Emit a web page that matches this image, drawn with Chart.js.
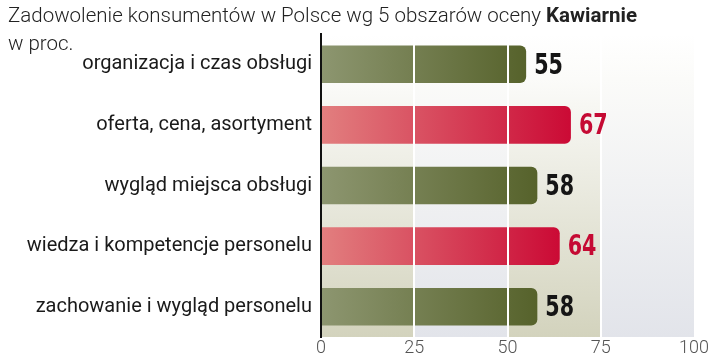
<!DOCTYPE html>
<html>
<head>
<meta charset="utf-8">
<script src="https://cdn.jsdelivr.net/npm/chart.js@4"></script>
<style>
  html, body { margin: 0; padding: 0; background: #fff; }
  #wrap { position: relative; width: 720px; height: 360px; }
  #title { position: absolute; left: 8px; top: 1px; font-family: Roboto, sans-serif; font-weight: 300; font-size: 20.5px; color: #222; white-space: nowrap; line-height: 28px; }
  #title b { font-weight: 700; }
  canvas { position: absolute; left: 0; top: 0; }
</style>
</head>
<body>
<div id="wrap">
  <canvas id="chart" width="720" height="360"></canvas>
  <div id="title">Zadowolenie konsumentów w Polsce wg 5 obszarów oceny <b>Kawiarnie</b><br>w proc.</div>
</div>
<script>
// Data
const categories = [
  "organizacja i czas obsługi",
  "oferta, cena, asortyment",
  "wygląd miejsca obsługi",
  "wiedza i kompetencje personelu",
  "zachowanie i wygląd personelu",
];
const values = [55, 67, 58, 64, 58];
const xTicks = [0, 25, 50, 75, 100];

// red bars on every second row
const isRed = (i) => i % 2 === 1;

function barFill(ctx) {
  const chart = ctx.chart;
  const area = chart.chartArea;
  const red = isRed(ctx.dataIndex);
  if (!area) return red ? "#d6394f" : "#6f7a45";
  const x0 = chart.scales.x.getPixelForValue(0);
  const x1 = chart.scales.x.getPixelForValue(values[ctx.dataIndex]);
  const g = chart.ctx.createLinearGradient(x0, 0, x1, 0);
  if (red) {
    g.addColorStop(0, "#e27f7f");
    g.addColorStop(1, "#cb0a35");
  } else {
    g.addColorStop(0, "#8d9670");
    g.addColorStop(1, "#56622b");
  }
  return g;
}

// column bands behind the bars
const bandsPlugin = {
  id: "bands",
  beforeDraw(chart) {
    const { ctx, chartArea: a, scales: { x } } = chart;
    ctx.save();
    for (let i = 0; i < xTicks.length - 1; i++) {
      const l = x.getPixelForValue(xTicks[i]);
      const r = x.getPixelForValue(xTicks[i + 1]);
      const g = ctx.createLinearGradient(0, a.top, 0, a.bottom);
      g.addColorStop(0, "#ffffff");
      g.addColorStop(0.15, "#fbfbf9");
      g.addColorStop(1, i % 2 === 0 ? "#d3d3bd" : "#e2e4ea");
      ctx.fillStyle = g;
      ctx.fillRect(l, a.top, r - l, a.bottom - a.top);
    }
    ctx.restore();
  },
};

// value labels at the bar ends (narrowed to look condensed)
const valueLabels = {
  id: "valueLabels",
  afterDraw(chart) {
    const { ctx } = chart;
    const meta = chart.getDatasetMeta(0);
    ctx.save();
    ctx.font = "bold 28px 'DejaVu Sans Condensed', 'Liberation Sans Narrow', sans-serif";
    ctx.textBaseline = "middle";
    ctx.textAlign = "left";
    meta.data.forEach((bar, i) => {
      ctx.save();
      ctx.translate(bar.x + 8, bar.y + 2);
      ctx.scale(0.82, 1);
      ctx.fillStyle = isRed(i) ? "#c50a33" : "#151515";
      ctx.fillText(values[i], 0, 0);
      ctx.restore();
    });
    ctx.restore();
  },
};

new Chart(document.getElementById("chart"), {
  type: "bar",
  data: {
    labels: categories,
    datasets: [{
      data: values,
      backgroundColor: barFill,
      borderSkipped: false,
      borderRadius: { topLeft: 0, bottomLeft: 0, topRight: 6, bottomRight: 6 },
      barPercentage: 0.62,
      categoryPercentage: 1,
    }],
  },
  options: {
    indexAxis: "y",
    responsive: false,
    animation: false,
    layout: { padding: { top: 34, right: 26, left: 0, bottom: 0 } },
    plugins: { legend: { display: false }, tooltip: { enabled: false } },
    scales: {
      x: {
        min: 0,
        max: 100,
        afterBuildTicks: (s) => { s.ticks = xTicks.map((v) => ({ value: v })); },
        afterFit: (s) => { s.height = 23; },
        ticks: {
          padding: 1,
          color: "#555",
          font: { family: "Roboto", weight: 300, size: 18 },
        },
        grid: {
          z: 1,
          drawTicks: false,
          lineWidth: 2,
          color: (c) => (c.tick && c.tick.value > 0 && c.tick.value < 100 ? "#ffffff" : "rgba(0,0,0,0)"),
        },
        border: { display: false },
      },
      y: {
        afterFit: (s) => { s.width = 321; },
        ticks: {
          padding: 9,
          color: "#1a1a1a",
          font: { family: "Roboto", weight: 400, size: 20 },
        },
        grid: { display: false, drawTicks: false },
        border: { display: true, color: "#111", width: 2, z: 2 },
      },
    },
  },
  plugins: [bandsPlugin, valueLabels],
});
</script>
</body>
</html>
